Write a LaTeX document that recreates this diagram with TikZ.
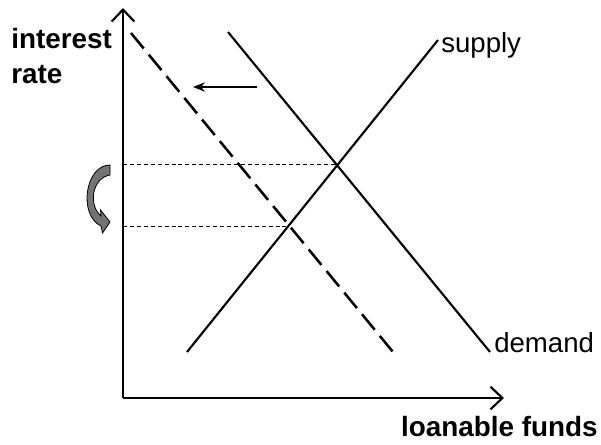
\documentclass[tikz,border=0pt]{standalone}
\usepackage{fontspec}
\setmainfont{Liberation Sans}
\usetikzlibrary{arrows.meta}
\begin{document}
\begin{tikzpicture}[x=0.75pt,y=-0.75pt,
  axis/.style={line width=2.2pt,-{Straight Barb[length=9pt,width=17pt,line width=1.6pt]}},
  curve/.style={line width=1.6pt},
  guide/.style={line width=0.6pt,dash pattern=on 3pt off 2.2pt},
  lbl/.style={font=\fontsize{20.7}{24}\selectfont,inner sep=0pt},
  bold/.style={lbl,font=\fontsize{20.9}{24}\selectfont\bfseries}]
\useasboundingbox (0,0) rectangle (601,444);
% axes
\coordinate (O) at (123,398);
\coordinate (ytop) at (123,8);
\coordinate (xend) at (504,398);
\draw[axis] (O) -- (ytop);
\draw[axis] (O) -- (xend);
% demand, supply, shifted demand
\coordinate (d1) at (228,32);
\coordinate (d2) at (490,352);
\coordinate (s1) at (187,352);
\coordinate (s2) at (438,40);
\coordinate (n1) at (131,33);
\coordinate (n2) at (393,352);
\draw[curve] (d1) -- (d2);
\draw[curve] (s1) -- (s2);
\draw[line width=1.9pt,dash pattern=on 15pt off 6pt] (n1) -- (n2);
% guides
\coordinate (e1) at (337,164);
\coordinate (e2) at (289,226);
\coordinate (a1) at (123,164);
\coordinate (a2) at (123,226);
\draw[guide] (a1) -- (e1);
\draw[guide] (a2) -- (e2);
% shift arrow
\coordinate (sh1) at (257,87);
\coordinate (sh2) at (193,87);
\draw[line width=1.2pt,-{Stealth[length=9pt,width=7pt]}] (sh1) -- (sh2);
% curved arrow
\filldraw[fill=black!55,draw=black,line width=0.6pt]
  (110,165) .. controls (85,165) and (78,215) .. (101,226)
  -- (102.5,233) -- (110,222) -- (100.5,210) -- (101,216)
  .. controls (88,205) and (92,178) .. (110,175) -- cycle;
% labels
\node[bold,anchor=base west] (ir1) at (11,48) {interest};
\node[bold,anchor=base west] (ir2) at (11,83) {rate};
\node[bold,anchor=base east] (lf) at (598,436) {loanable funds};
\node[lbl,anchor=base west] (sup) at (441,52) {supply};
\node[lbl,anchor=base west] (dem) at (494,352) {demand};
\end{tikzpicture}
\end{document}
